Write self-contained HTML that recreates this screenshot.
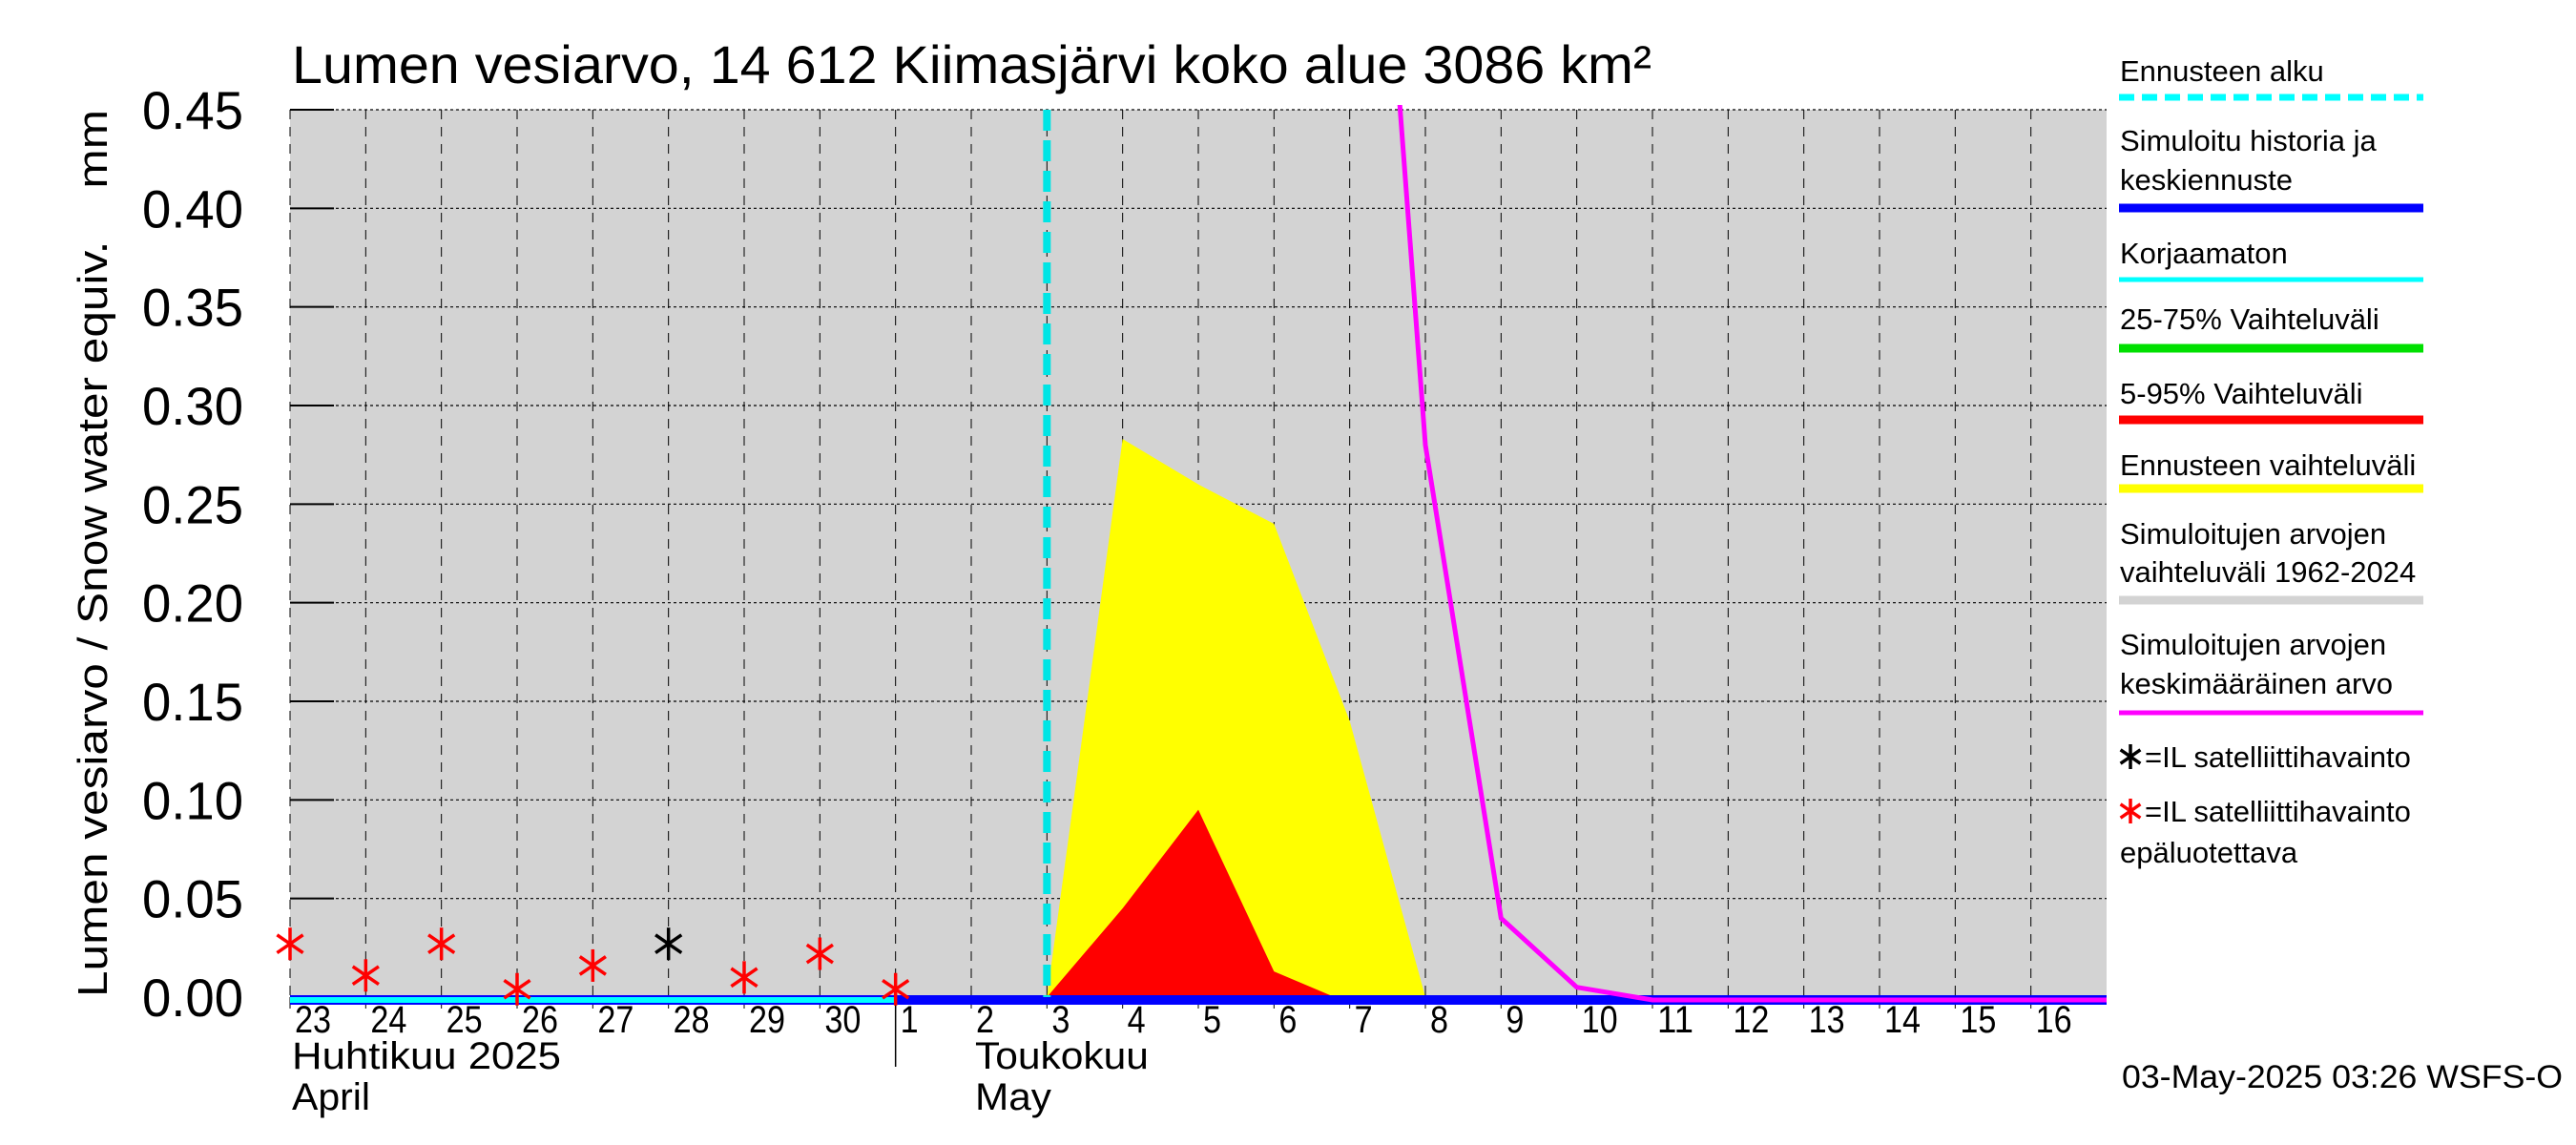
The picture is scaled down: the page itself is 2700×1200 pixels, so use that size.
<!DOCTYPE html>
<html><head><meta charset="utf-8"><style>
html,body{margin:0;padding:0;background:#fff}
svg{display:block;font-family:"Liberation Sans",sans-serif}
</style></head><body>
<svg id="chart" width="2700" height="1200" viewBox="0 0 2700 1200" xmlns="http://www.w3.org/2000/svg">
<text x="306" y="87" font-size="56" textLength="1425" lengthAdjust="spacingAndGlyphs">Lumen vesiarvo, 14 612 Kiimasjärvi koko alue 3086 km²</text>
<text transform="translate(112,580) rotate(-90)" text-anchor="middle" font-size="44" textLength="930" lengthAdjust="spacingAndGlyphs" xml:space="preserve">Lumen vesiarvo / Snow water equiv.    mm</text>
<g id="plot"></g>
<g id="legend"></g>
<text x="2224" y="1140" font-size="34" textLength="462" lengthAdjust="spacingAndGlyphs">03-May-2025 03:26 WSFS-O</text>
</svg>
<script>
const yTicks = [0,0.05,0.10,0.15,0.20,0.25,0.30,0.35,0.40,0.45];
const dayLabels = ["23","24","25","26","27","28","29","30","1","2","3","4","5","6","7","8","9","10","11","12","13","14","15","16"];
const yellowDays = [10,11,12,13,14,15];
const yellowVals = [0,0.283,0.26,0.24,0.14,0];
const redDays = [10,11,12,13,13.8];
const redVals = [0,0.045,0.095,0.013,0];
const meanDays = [14,15,16,17,18,24];
const meanVals = [0.79,0.28,0.04,0.005,0,0];
const obsDays = [0,1,2,3,4,5,6,7,8];
const obsVals = [0.027,0.011,0.027,0.004,0.016,0.027,0.010,0.022,0.004];
const obsReliable = [false,false,false,false,false,true,false,false,false];
const forecastStart = 10;
const NS="http://www.w3.org/2000/svg";
const L=304,R=2208,T=115,B=1045,NDAYS=24,YMAX=0.45;
const xs=d=>L+(R-L)*d/NDAYS;
const ys=v=>B-(B-T)*v/YMAX;
const plot=document.getElementById('plot');
function mk(tag,attrs,parent){const e=document.createElementNS(NS,tag);for(const k in attrs)e.setAttribute(k,attrs[k]);(parent||plot).appendChild(e);return e;}
let e;
e=mk('rect',{x:L,y:T,width:R-L,height:B-T,fill:'#d3d3d3'});


const clip=mk('clipPath',{id:'pc'});mk('rect',{x:L,y:T-5,width:R-L,height:B-T+15},clip);
yTicks.forEach(v=>{
 e=mk('line',{x1:L,x2:R,y1:ys(v),y2:ys(v),stroke:'#000','stroke-width':1.2,'stroke-dasharray':'3,3'});
 
 
 mk('line',{x1:L,x2:L+46,y1:ys(v),y2:ys(v),stroke:'#000','stroke-width':2});
 e=mk('text',{x:255,y:ys(v)+20,'text-anchor':'end','font-size':56,textLength:106,lengthAdjust:'spacingAndGlyphs'});e.textContent=v.toFixed(2);
 
 
});
dayLabels.forEach((s,i)=>{
 e=mk('line',{x1:xs(i),x2:xs(i),y1:T,y2:B,stroke:'#000','stroke-width':1,'stroke-dasharray':'10,8'});
 
 
 mk('line',{x1:xs(i),x2:xs(i),y1:B,y2:B+12,stroke:'#000','stroke-width':1});
 e=mk('text',{x:xs(i)+5,y:1082,'font-size':40,textLength:s.length*19,lengthAdjust:'spacingAndGlyphs'});e.textContent=s;
 
 
});
mk('line',{x1:xs(8),x2:xs(8),y1:B,y2:1118,stroke:'#000','stroke-width':1.5});
[['Huhtikuu  2025',xs(0)+2,1120,'month-label-fi',282],['April',xs(0)+2,1163,'month-label-en',82],['Toukokuu',xs(9.05),1120,'month-label-fi',182],['May',xs(9.05),1163,'month-label-en',80]].forEach(a=>{
 e=mk('text',{x:a[1],y:a[2],'font-size':40,'xml:space':'preserve',textLength:a[4],lengthAdjust:'spacingAndGlyphs'});e.textContent=a[0];
 
 
});
const g=mk('g',{'clip-path':'url(#pc)'});
e=mk('polygon',{points:yellowDays.map((d,i)=>xs(d)+','+ys(yellowVals[i])).join(' '),fill:'#ffff00'},g);


e=mk('polygon',{points:redDays.map((d,i)=>xs(d)+','+ys(redVals[i])).join(' '),fill:'#ff0000'},g);


e=mk('rect',{x:L,y:B-2,width:R-L,height:10,fill:'#0000ff'},g);


e=mk('rect',{x:L,y:B,width:xs(8)-L,height:6,fill:'#00ffff'},g);


e=mk('polyline',{points:meanDays.map((d,i)=>xs(d)+','+(ys(meanVals[i])+(meanVals[i]===0?3:0))).join(' '),fill:'none',stroke:'#ff00ff','stroke-width':5},g);


e=mk('line',{x1:xs(forecastStart),x2:xs(forecastStart),y1:T,y2:B,stroke:'#00e5e5','stroke-width':8,'stroke-dasharray':'22,10'});


function star(cx,cy,col,parent,r){r=r||15;const s=mk('g',{stroke:col,'stroke-width':3.5},parent);
 mk('line',{x1:cx,x2:cx,y1:cy-r,y2:cy+r},s);
 mk('line',{x1:cx-r*0.8,x2:cx+r*0.8,y1:cy-r*0.55,y2:cy+r*0.55},s);
 mk('line',{x1:cx-r*0.8,x2:cx+r*0.8,y1:cy+r*0.55,y2:cy-r*0.55},s);return s;}
obsDays.forEach((d,i)=>{
 const s=star(xs(d),ys(obsVals[i]),obsReliable[i]?'#000':'#ff0000',plot,17);
 
 
});
const lg=document.getElementById('legend');
const LX=2221,LX2=2540;
function txt(t,y,x){const t1=mk('text',{x:x||2222,y:y,'font-size':31},lg);t1.textContent=t;return t1;}
function ln(y,col,w,dash){const l=mk('line',{x1:LX,x2:LX2,y1:y,y2:y,stroke:col,'stroke-width':w},lg);if(dash)l.setAttribute('stroke-dasharray',dash);return l;}
txt('Ennusteen alku',85);ln(102,'#00ffff',7,'16,8');
txt('Simuloitu historia ja',158);txt('keskiennuste',199);ln(218,'#0000ff',9);
txt('Korjaamaton',276);ln(293,'#00ffff',5);
txt('25-75% Vaihteluväli',345);ln(365,'#00e000',9);
txt('5-95% Vaihteluväli',423);ln(440,'#ff0000',9);
txt('Ennusteen vaihteluväli',498);ln(512,'#ffff00',9);
txt('Simuloitujen arvojen',570);txt('vaihteluväli 1962-2024',610);ln(629,'#d3d3d3',9);
txt('Simuloitujen arvojen',686);txt('keskimääräinen arvo',727);ln(747,'#ff00ff',5);
star(2233,793,'#000',lg,13);txt('=IL satelliittihavainto',804,2248);
star(2233,850,'#ff0000',lg,13);txt('=IL satelliittihavainto',861,2248);txt('epäluotettava',904);
</script>
</body></html>
